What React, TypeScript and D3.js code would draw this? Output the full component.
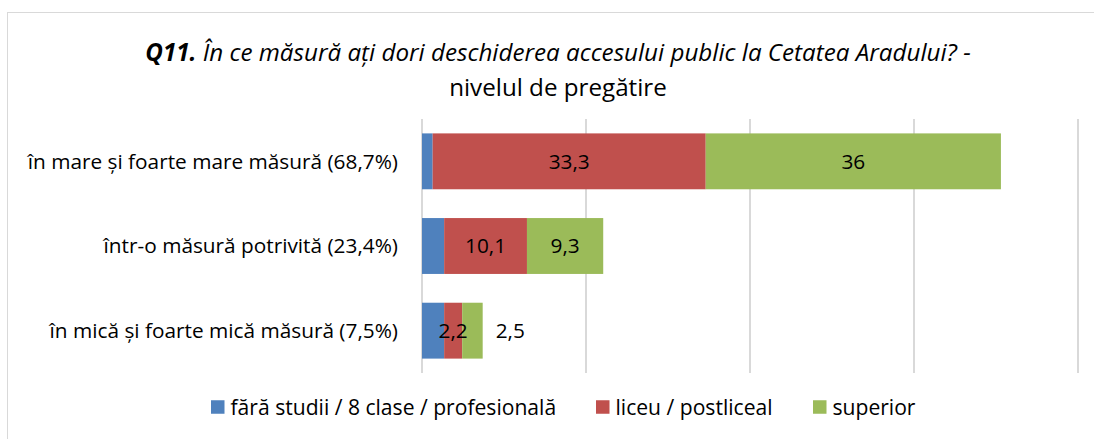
import React from 'react';
import * as d3 from 'd3';

const categories = [
  'în mare și foarte mare măsură (68,7%)',
  'într-o măsură potrivită (23,4%)',
  'în mică și foarte mică măsură (7,5%)',
];
const seriesNames = ['fără studii / 8 clase / profesională', 'liceu / postliceal', 'superior'];
const faraStudii = [1.3, 2.7, 2.7];
const liceu = [33.3, 10.1, 2.2];
const superior = [36, 9.3, 2.5];
const faraStudiiLabels: (string | null)[] = [null, null, null];
const liceuLabels: (string | null)[] = ['33,3', '10,1', '2,2'];
const superiorLabels: (string | null)[] = ['36', '9,3', '2,5'];
const superiorLabelOutside = [false, false, true];
const xTicks = [0, 20, 40, 60, 80];

const colors = ['#4F81BD', '#C0504D', '#9BBB59'];
const FONT = '"Open Sans", Lato, sans-serif';

export default function App() {
  const W = 1094;
  const H = 439;
  const x = d3.scaleLinear().domain([0, 80]).range([422, 1078]);
  const y = d3.scaleBand<string>().domain(categories).range([119, 373]).paddingInner(0.34).paddingOuter(0.17);

  const seriesValues = [faraStudii, liceu, superior];
  const seriesLabels = [faraStudiiLabels, liceuLabels, superiorLabels];
  const table = categories.map((c, i) => {
    const row: any = { cat: c };
    seriesNames.forEach((s, k) => (row[s] = seriesValues[k][i]));
    return row;
  });
  const stacked = d3.stack<any>().keys(seriesNames)(table);

  const legendX = [211, 596, 813];

  return (
    <svg width={W} height={H} style={{ position: 'absolute', left: 0, top: 0, background: '#fff' }} fontFamily={FONT}>
      <rect x={7.5} y={12.5} width={W + 10} height={H + 10} fill="#fff" stroke="#D9D9D9" strokeWidth={1} />
      <text x={558} y={61} textAnchor="middle" fontSize={24.2} fill="#000">
        <tspan fontWeight="bold" fontStyle="italic">Q11.</tspan>
        <tspan fontStyle="italic"> În ce măsură ați dori deschiderea accesului public la Cetatea Aradului? -</tspan>
      </text>
      <text x={558} y={96} textAnchor="middle" fontSize={24.2} fill="#000">nivelul de pregătire</text>

      {xTicks.map((t) => (
        <line key={t} x1={x(t)} x2={x(t)} y1={119} y2={373} stroke="#D9D9D9" strokeWidth={2} />
      ))}

      {stacked.map((layer, k) => (
        <g key={layer.key}>
          {layer.map((d, i) => (
            <rect
              key={i}
              x={x(d[0])}
              y={y(categories[i])}
              width={x(d[1]) - x(d[0])}
              height={y.bandwidth()}
              fill={colors[k]}
            />
          ))}
        </g>
      ))}

      {stacked.map((layer, k) => (
        <g key={'l' + layer.key}>
          {layer.map((d, i) => {
            const lab = seriesLabels[k][i];
            if (!lab) return null;
            const outside = k === 2 && superiorLabelOutside[i];
            const cx = outside ? x(d[1]) + 13 : (x(d[0]) + x(d[1])) / 2;
            return (
              <text
                key={i}
                x={cx}
                y={(y(categories[i]) as number) + y.bandwidth() / 2}
                dy="0.36em"
                textAnchor={outside ? 'start' : 'middle'}
                fontSize={20.8}
                fill="#000"
              >
                {lab}
              </text>
            );
          })}
        </g>
      ))}

      {categories.map((c) => (
        <text
          key={c}
          x={398}
          y={(y(c) as number) + y.bandwidth() / 2}
          dy="0.36em"
          textAnchor="end"
          fontSize={20.8}
          fill="#000"
        >
          {c}
        </text>
      ))}

      {seriesNames.map((s, k) => (
        <g key={s} transform={`translate(${legendX[k]},407)`}>
          <rect x={0} y={-6.75} width={13.5} height={13.5} fill={colors[k]} />
          <text x={19.5} y={0} dy="0.36em" fontSize={21.1} fill="#000">
            {s}
          </text>
        </g>
      ))}
    </svg>
  );
}
